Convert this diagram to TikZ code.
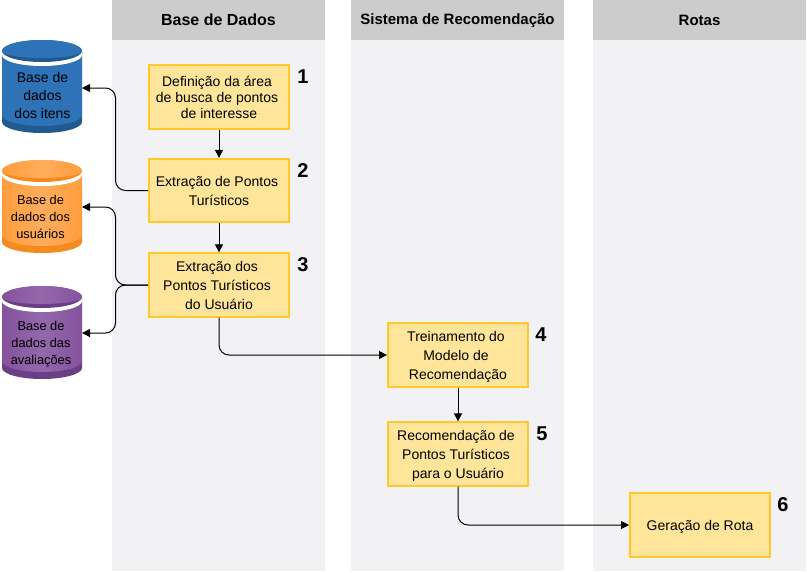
\documentclass[tikz,border=0pt]{standalone}
\usepackage{fontspec}
\setmainfont{Liberation Sans}
\usetikzlibrary{arrows.meta}
\definecolor{lanehead}{HTML}{CCCCCC}
\definecolor{lanebody}{HTML}{F2F2F5}
\definecolor{boxfill}{HTML}{FFE599}
\definecolor{boxline}{HTML}{FFC92E}
\definecolor{bluemain}{HTML}{2E72B8}
\definecolor{bluedark}{HTML}{215A8F}
\definecolor{orangemain}{HTML}{FF9D3D}
\definecolor{orangelight}{HTML}{FFAD5C}
\definecolor{orangedark}{HTML}{F58A1F}
\definecolor{purplemain}{HTML}{84529C}
\definecolor{purplelight}{HTML}{9468AC}
\definecolor{purpledark}{HTML}{6B3F87}
\newcommand{\ls}{\kern3pt}
\newcommand{\nd}[1]{\raisebox{0pt}[\height][0pt]{#1}}
\tikzset{
  x=0.75pt,y=-0.75pt,
  lanebg/.style={fill=lanebody,draw=none},
  lanehd/.style={fill=lanehead,draw=none},
  lanetitle/.style={font=\fontsize{11.25}{13}\selectfont\bfseries,text=black,anchor=center,inner sep=0pt},
  stepbox/.style={draw=boxline,fill=boxfill,line width=1.5pt,minimum width=105pt,minimum height=47.5pt,inner sep=0pt,align=center,font=\fontsize{10.5}{14.25}\selectfont,text=black},
  stepboxtight/.style={stepbox,font=\fontsize{10.5}{12}\selectfont},
  numlabel/.style={font=\fontsize{15}{17}\selectfont\bfseries,anchor=center,inner sep=0pt},
  cyltext/.style={inner sep=0pt,align=center,text=black},
  conn/.style={draw=black,line width=0.75pt,rounded corners=7.5pt,-{Triangle[length=6pt,width=6pt]}},
}
% x left, y top, main colour, dark colour, light centre colour
\newcommand{\cylshape}[5]{%
  \begin{scope}[shift={(#1,#2)}]
    \path[fill=#4] (0,11) -- (0,82) arc[start angle=180,end angle=0,x radius=40,y radius=11] -- (80,11) -- cycle;
    \path[left color=#3,right color=#3,middle color=#5] (0,11) -- (0,75) arc[start angle=180,end angle=0,x radius=40,y radius=11] -- (80,11) -- cycle;
    \path[fill=white] (0,15) arc[start angle=180,end angle=0,x radius=40,y radius=11] -- (80,11) -- (0,11) -- cycle;
    \path[fill=#4] (0,11) arc[start angle=180,end angle=-180,x radius=40,y radius=11];
    \path[left color=#3,right color=#3,middle color=#5] (0,11) arc[start angle=180,end angle=360,x radius=40,y radius=11] arc[start angle=0,end angle=180,x radius=40,y radius=7] -- cycle;
  \end{scope}}
\begin{document}
\begin{tikzpicture}
\useasboundingbox (0,0) rectangle (807,572);
% lanes
\fill[lanebg] (112,0) rectangle (325,571);
\fill[lanebg] (351,0) rectangle (564,571);
\fill[lanebg] (593,0) rectangle (806,571);
\fill[lanehd] (112,0) rectangle (325,40);
\fill[lanehd] (351,0) rectangle (564,40);
\fill[lanehd] (593,0) rectangle (806,40);
\node[lanetitle,font=\fontsize{12}{14}\selectfont\bfseries] (t1) at (218.5,20) {Base de Dados};
\node[lanetitle] (t2) at (457.5,20.5) {Sistema de Recomendação};
\node[lanetitle] (t3) at (699.5,20.5) {Rotas};
% cylinders
\cylshape{2}{40}{bluemain}{bluedark}{bluemain}
\cylshape{2}{160}{orangemain}{orangedark}{orangelight}
\cylshape{2}{286}{purplemain}{purpledark}{purplelight}
\node[cyltext,font=\fontsize{10.5}{13.5}\selectfont] (db1) at (42.5,95) {Base de\\dados\\dos itens};
\node[cyltext,font=\fontsize{9.6}{12.8}\selectfont] (db2) at (40.5,217) {Base de\\dados dos\\usuários};
\node[cyltext,font=\fontsize{9.6}{12.8}\selectfont] (db3) at (41,344.5) {Base de\\dados das\\avaliações};
\coordinate (e1) at (82,88);
\coordinate (e2) at (82,207);
\coordinate (e3) at (82,333);
% steps
\node[stepboxtight] (s1) at (219,97) {Definição da área\ls\\de busca de pontos\ls\\de interesse};
\node[stepbox] (s2) at (219,190.5) {Extração de Pontos\ls\\Turísticos};
\node[stepbox] (s3) at (219,285) {Extração dos\ls\\Pontos Turísticos\ls\\do Usuário};
\node[stepbox] (s4) at (458,355) {Treinamento do\ls\\Modelo de\ls\\\nd{Recomendação}};
\node[stepbox] (s5) at (458,454) {Recomendação de\ls\\Pontos Turísticos\ls\\\nd{para o Usuário}};
\node[stepbox] (s6) at (700,525) {\nd{Geração de Rota}};
% numbers
\node[numlabel] (n1) at (303,76.5) {1};
\node[numlabel] (n2) at (303,170.5) {2};
\node[numlabel] (n3) at (303,265) {3};
\node[numlabel] (n4) at (541,334.5) {4};
\node[numlabel] (n5) at (542,434) {5};
\node[numlabel] (n6) at (783,504.5) {6};
% connectors
\coordinate (j1) at (115.5,190.5);
\coordinate (j2) at (115.5,285);
\draw[conn] (s1) -- (s2);
\draw[conn] (s2) -- (s3);
\draw[conn] (s4) -- (s5);
\draw[conn] (s2.west) -- (j1) |- (e1);
\draw[conn] (s3.west) -- (j2) |- (e2);
\draw[conn] (s3.west) -- (j2) |- (e3);
\draw[conn] (s3.south) |- (s4.west);
\draw[conn] (s5.south) |- (s6.west);
\end{tikzpicture}
\end{document}
